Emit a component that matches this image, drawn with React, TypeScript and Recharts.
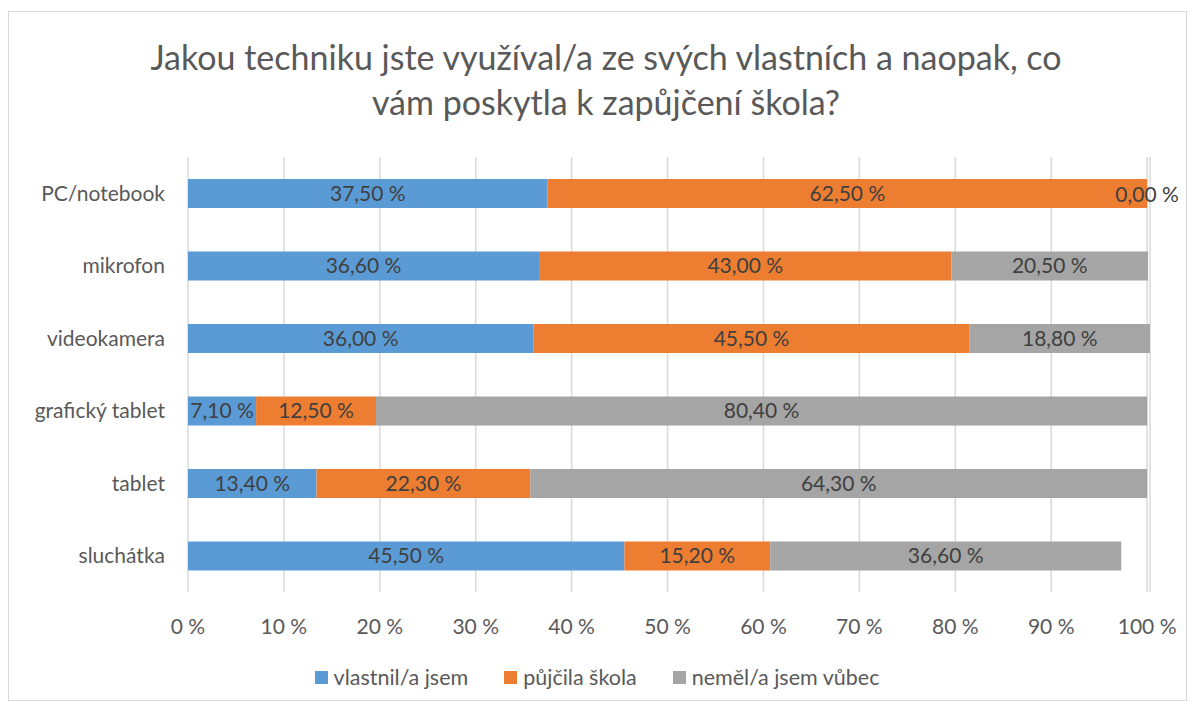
import { BarChart, Bar, XAxis, YAxis, CartesianGrid, LabelList } from "recharts";

const categories = ["PC/notebook", "mikrofon", "videokamera", "grafický tablet", "tablet", "sluchátka"];
const vlastnil = [37.5, 36.6, 36.0, 7.1, 13.4, 45.5];
const pujcila = [62.5, 43.0, 45.5, 12.5, 22.3, 15.2];
const nemel = [0.0, 20.5, 18.8, 80.4, 64.3, 36.6];
const xTicks = [0, 10, 20, 30, 40, 50, 60, 70, 80, 90, 100];

const series = [
  { key: "vlastnil", name: "vlastnil/a jsem", color: "#5b9bd5" },
  { key: "pujcila", name: "půjčila škola", color: "#ed7d31" },
  { key: "nemel", name: "neměl/a jsem vůbec", color: "#a5a5a5" },
];

const data = categories.map((name, i) => ({
  name,
  vlastnil: vlastnil[i],
  pujcila: pujcila[i],
  nemel: nemel[i],
}));

const font = "Lato, 'Open Sans', sans-serif";
const fmt = (v: any) => Number(v).toFixed(2).replace(".", ",") + " %";

// zero-width segments get no label from recharts, so draw them at the end of the previous segment
const ZeroLabel = (props: any) => {
  const { x, y, width, height, index } = props;
  if (nemel[index] !== 0) return null;
  return (
    <text
      x={x + width}
      y={y + height / 2}
      textAnchor="middle"
      dominantBaseline="central"
      fill="#404040"
      fontSize={21}
      fontFamily={font}
    >
      {fmt(nemel[index])}
    </text>
  );
};

const App = () => {
  return (
    <div style={{ position: "absolute", left: 0, top: 0, width: 1194, height: 708, background: "#fff", fontFamily: font }}>
      <div
        style={{
          position: "absolute",
          left: 8,
          top: 11,
          width: 1177,
          height: 688,
          border: "1px solid #d9d9d9",
        }}
      />
      <div
        style={{
          position: "absolute",
          left: 0,
          top: 34,
          width: 1212,
          textAlign: "center",
          fontSize: 34,
          lineHeight: "45px",
          color: "#595959",
        }}
      >
        Jakou techniku jste využíval/a ze svých vlastních a naopak, co
        <br />
        vám poskytla k zapůjčení škola?
      </div>
      <div style={{ position: "absolute", left: 0, top: 0 }}>
        <BarChart
          width={1194}
          height={708}
          data={data}
          layout="vertical"
          margin={{ top: 157, right: 44, bottom: 86, left: 8 }}
        >
          <CartesianGrid horizontal={false} stroke="#d9d9d9" strokeWidth={1.5} />
          <XAxis
            type="number"
            domain={[0, 100]}
            ticks={xTicks}
            tickFormatter={(v) => `${v} %`}
            axisLine={false}
            tickLine={false}
            tickSize={0}
            tickMargin={27}
            height={30}
            tick={{ fill: "#595959", fontSize: 21, fontFamily: font }}
          />
          <YAxis
            type="category"
            dataKey="name"
            width={180}
            axisLine={false}
            tickLine={false}
            tickSize={0}
            tickMargin={23}
            tick={{ fill: "#595959", fontSize: 21, fontFamily: font }}
          />
          {series.map((s) => (
            <Bar key={s.key} dataKey={s.key} name={s.name} stackId="a" fill={s.color} barSize={29} isAnimationActive={false}>
              <LabelList
                dataKey={s.key}
                position="center"
                formatter={fmt}
                fill="#404040"
                fontSize={21}
                fontFamily={font}
              />
              {s.key === "pujcila" && <LabelList dataKey={s.key} content={ZeroLabel} />}
            </Bar>
          ))}
        </BarChart>
      </div>
      <div
        style={{
          position: "absolute",
          left: 0,
          top: 664,
          width: 1194,
          display: "flex",
          justifyContent: "center",
          gap: 36,
          fontSize: 21.5,
          color: "#595959",
          lineHeight: "26px",
        }}
      >
        {series.map((s) => (
          <div key={s.key} style={{ display: "flex", alignItems: "center", gap: 6 }}>
            <span style={{ display: "inline-block", width: 13, height: 13, background: s.color }} />
            <span>{s.name}</span>
          </div>
        ))}
      </div>
    </div>
  );
};

export default App;
